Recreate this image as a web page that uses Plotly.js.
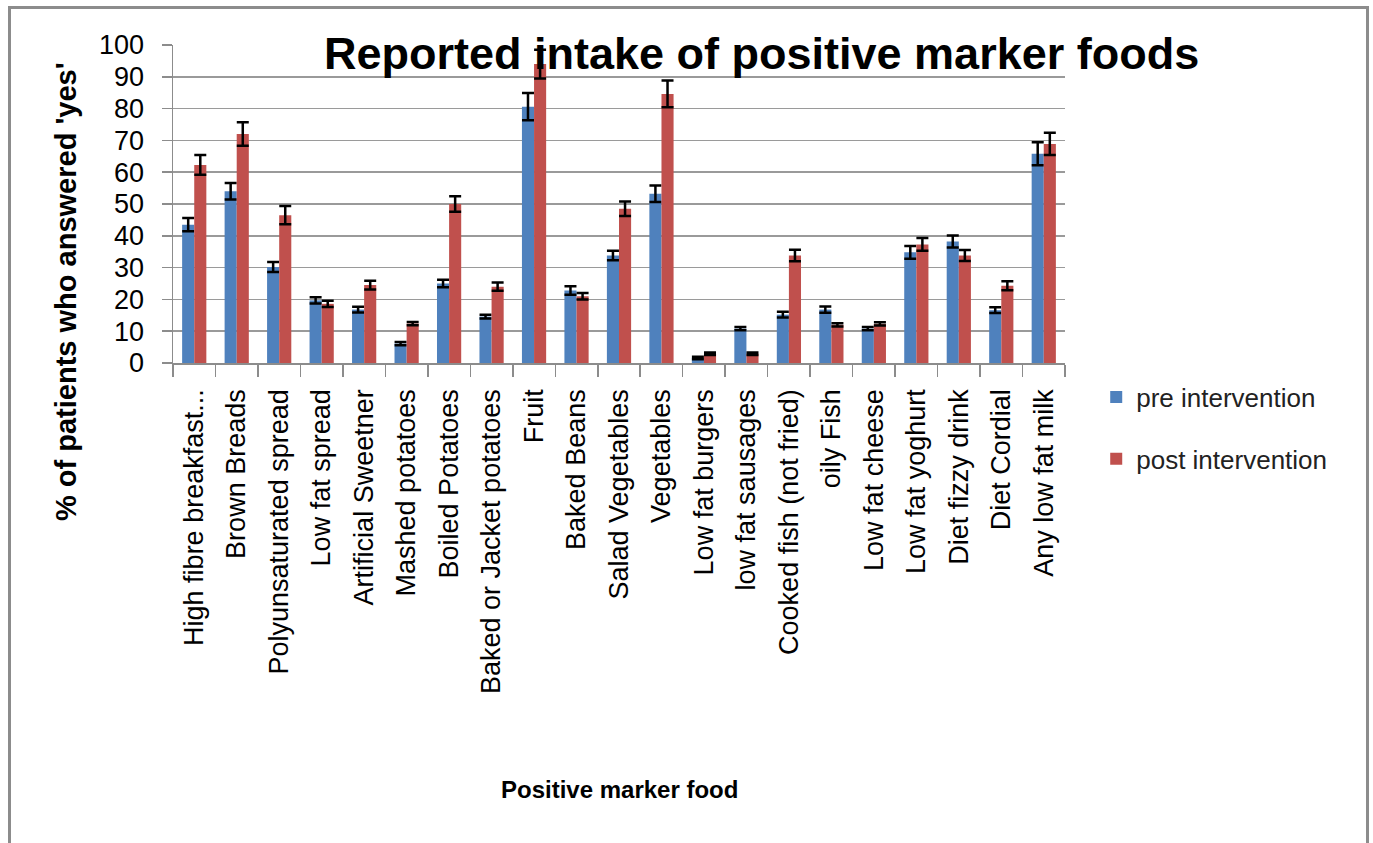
<!DOCTYPE html>
<html>
<head>
<meta charset="utf-8">
<script src="https://cdn.plot.ly/plotly-3.0.1.min.js"></script>
<style>
  html, body { margin: 0; padding: 0; background: #fff; }
  #chart { position: absolute; left: 0; top: 0; width: 1373px; height: 843px; }
  #frame { position: absolute; left: 8px; top: 6px; width: 1355px; height: 900px;
           border: 3px solid #8c8c8c; border-bottom: none; pointer-events: none; }
</style>
</head>
<body>
<div id="chart"></div>
<div id="frame"></div>
<script>
const categories = [
  "High fibre breakfast...", "Brown Breads", "Polyunsaturated spread", "Low fat spread",
  "Artificial Sweetner", "Mashed potatoes", "Boiled Potatoes", "Baked or Jacket potatoes",
  "Fruit", "Baked Beans", "Salad Vegetables", "Vegetables", "Low fat burgers",
  "low fat sausages", "Cooked fish (not fried)", "oily Fish", "Low fat cheese",
  "Low fat yoghurt", "Diet fizzy drink", "Diet Cordial", "Any low fat milk"
];
const preValues  = [43.5, 54, 30.2, 19.7, 16.8, 6.1, 25, 14.6, 80.6, 22.8, 33.8, 53.2, 1.6, 10.8, 15.2, 16.8, 10.8, 34.8, 38.2, 16.6, 65.8];
const preErr     = [2.1, 2.6, 1.6, 1.0, 0.9, 0.5, 1.2, 0.6, 4.3, 1.3, 1.5, 2.6, 0.4, 0.5, 0.9, 1.0, 0.5, 2.0, 1.9, 0.9, 3.6];
const postValues = [62.3, 72, 46.5, 18.6, 24.5, 12.4, 50, 24, 94, 21, 48.5, 84.6, 2.9, 2.9, 33.8, 12, 12.3, 37.3, 33.8, 24.3, 68.9];
const postErr    = [3.1, 3.7, 2.9, 1.0, 1.4, 0.5, 2.4, 1.3, 4.5, 1.0, 2.3, 4.2, 0.4, 0.4, 1.8, 0.5, 0.5, 2.0, 1.7, 1.4, 3.5];
const seriesNames = ["pre intervention", "post intervention"];

const FONT = "'Liberation Sans', Arial, sans-serif";

const traces = [
  {
    type: "bar", name: seriesNames[0], x: categories, y: preValues,
    marker: { color: "#4F81BD" }, legendgroup: "a",
    error_y: { type: "data", array: preErr, visible: true, color: "#000", thickness: 2.5, width: 6 }
  },
  {
    type: "bar", name: seriesNames[1], x: categories, y: postValues,
    marker: { color: "#C0504D" }, legendgroup: "b",
    error_y: { type: "data", array: postErr, visible: true, color: "#000", thickness: 2.5, width: 6 }
  }
];

const layout = {
  width: 1373, height: 843,
  paper_bgcolor: "#fff", plot_bgcolor: "#fff",
  margin: { l: 173, r: 308, t: 45, b: 480, pad: 0 },
  barmode: "group", bargap: 0.43, bargroupgap: 0,
  font: { family: FONT, color: "#000" },
  showlegend: true,
  legend: {
    x: 1.035, xanchor: "left", y: (363 - 428) / 318, yanchor: "middle",
    font: { family: FONT, size: 26, color: "#222" },
    tracegroupgap: 25, bgcolor: "rgba(0,0,0,0)"
  },
  xaxis: {
    type: "category", tickangle: -90, tickson: "boundaries",
    ticks: "outside", ticklen: 12, tickcolor: "#8c8c8c", tickwidth: 1.5,
    showline: true, linecolor: "#8c8c8c", linewidth: 1.5,
    showgrid: false, ticklabelstandoff: 14,
    tickfont: { family: FONT, size: 27, color: "#000" },
    automargin: false
  },
  yaxis: {
    range: [0, 100], dtick: 10, tick0: 0,
    ticks: "outside", ticklen: 10, tickcolor: "#8c8c8c", tickwidth: 1.5,
    showline: true, linecolor: "#8c8c8c", linewidth: 1.5,
    showgrid: true, gridcolor: "#9a9a9a", gridwidth: 1.5,
    zeroline: false, ticklabelstandoff: 12,
    tickfont: { family: FONT, size: 27, color: "#000" },
    automargin: false
  },
  annotations: [
    {
      text: "<b>Reported intake of positive marker foods</b>",
      xref: "paper", yref: "paper", x: (761 - 173) / 892, y: (363 - 53) / 318,
      xanchor: "center", yanchor: "middle", showarrow: false,
      font: { family: FONT, size: 45, color: "#000" }
    },
    {
      text: "<b>% of patients who answered 'yes'</b>",
      xref: "paper", yref: "paper", x: (66 - 173) / 892, y: (363 - 292) / 318,
      xanchor: "center", yanchor: "middle", textangle: -90, showarrow: false,
      font: { family: FONT, size: 29, color: "#000" }
    },
    {
      text: "<b>Positive marker food</b>",
      xref: "paper", yref: "paper", x: (619 - 173) / 892, y: (363 - 789) / 318,
      xanchor: "center", yanchor: "middle", showarrow: false,
      font: { family: FONT, size: 24, color: "#000" }
    }
  ],
  hovermode: false
};

Plotly.newPlot("chart", traces, layout, { displayModeBar: false, staticPlot: true });
</script>
</body>
</html>
